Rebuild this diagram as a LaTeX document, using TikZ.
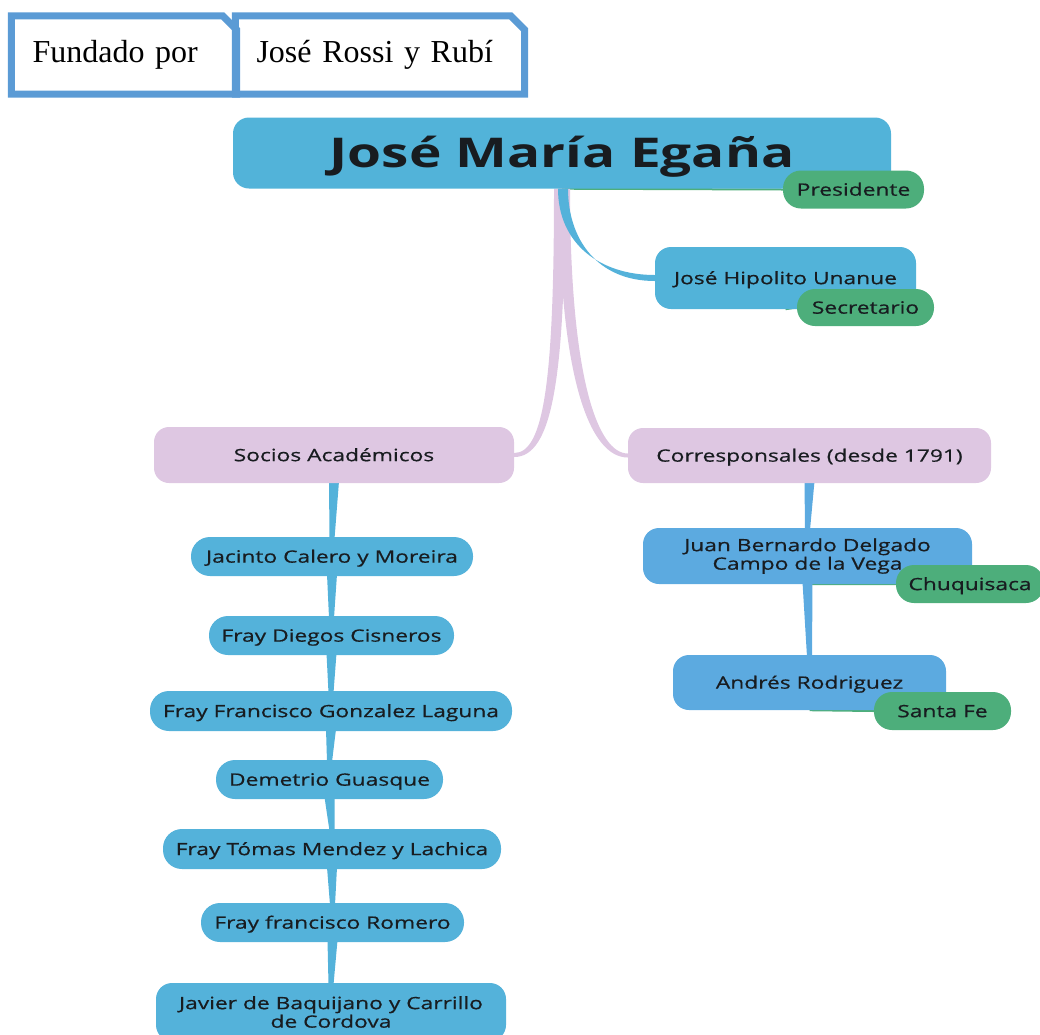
\documentclass[tikz,border=0pt]{standalone}
\usepackage{fontspec}
\setmainfont{Open Sans}[FakeStretch=1.34]
\newfontfamily\mapfont{Open Sans}[FakeStretch=1.34, FakeBold=0.6]
\newfontfamily\timesfont{Liberation Serif}
\usetikzlibrary{calc}
\pgfdeclarelayer{background}
\pgfsetlayers{background,main}

\definecolor{topicblue}{RGB}{82,179,217}
\definecolor{leafblue}{RGB}{84,178,218}
\definecolor{subblue}{RGB}{92,170,224}
\definecolor{lilac}{RGB}{222,199,226}
\definecolor{taggreen}{RGB}{77,174,123}
\definecolor{frameblue}{RGB}{91,155,213}
\definecolor{inkdark}{RGB}{24,28,32}

\begin{document}
\begin{tikzpicture}[x=1pt, y=-1pt, every node/.style={text=inkdark, inner sep=0pt},
	flat/.style={text height=12.3pt, text depth=0pt},
	topic/.style={fill=topicblue, rounded corners=16pt, minimum width=658pt, minimum height=71pt, text height=29pt, text depth=0pt, font=\fontsize{41}{48}\selectfont\bfseries},
	branch/.style={flat, fill=lilac, rounded corners=15pt, minimum height=56pt, font=\mapfont\fontsize{17}{20}\selectfont},
	leaf/.style={flat, fill=leafblue, rounded corners=19pt, minimum height=39pt, font=\mapfont\fontsize{17}{20}\selectfont},
	leafwide/.style={fill=leafblue, rounded corners=16pt, minimum height=58pt, align=center, font=\mapfont\fontsize{17}{18.5}\selectfont},
	member/.style={fill=subblue, rounded corners=16pt, minimum height=56pt, font=\mapfont\fontsize{17}{18.5}\selectfont, align=center},
	tag/.style={flat, fill=taggreen, rounded corners=18pt, minimum height=38pt, font=\mapfont\fontsize{17}{20}\selectfont},
	fbox/.style={minimum height=78pt, inner xsep=21pt, align=left, text=black, font=\timesfont\fontsize{32}{36}\selectfont},
	frame/.style={draw=frameblue, line width=7pt},
	purplelink/.style={fill=lilac},
	bluelink/.style={fill=leafblue},
	taglink/.style={draw=taggreen, line width=2pt}]
	\useasboundingbox (0,0) rectangle (1040,1034);

	% founder boxes
	\node[fbox, text width=183pt] (f1) at (124,55) {Fundado por};
	\node[fbox, text width=247pt] (f2) at (380,55) {José Rossi y Rubí};
	\draw[frame] (f2.south west) -- (f2.north west) -- ([xshift=-14pt]f2.north east) -- ([yshift=-14pt]f2.north east) -- (f2.south east) -- cycle;
	\draw[frame] (f1.south west) -- (f1.north west) -- ([xshift=-14pt]f1.north east) -- ([yshift=-14pt]f1.north east) -- (f1.south east) -- cycle;

	% mind map
	\node[topic] (egana) at (562,153) {José María Egaña};
	\node[tag, minimum width=141pt] (pres) at (853.5,189.5) {Presidente};
	\node[leaf, fill=topicblue, rounded corners=16pt, minimum width=261pt, minimum height=62pt] (unanue) at (785.5,278) {José Hipolito Unanue};
	\node[tag, minimum width=137pt, minimum height=37pt] (secr) at (865.5,307.5) {Secretario};

	\node[branch, minimum width=360pt] (socios) at (334,455) {Socios Académicos};
	\node[branch, minimum width=363pt, minimum height=55pt] (corresp) at (809.5,455.5) {Corresponsales (desde 1791)};

	\node[leaf, minimum width=282pt] (calero) at (332,556.5) {Jacinto Calero y Moreira};
	\node[leaf, minimum width=245pt] (cisneros) at (331.5,635.5) {Fray Diegos Cisneros};
	\node[leaf, minimum width=362pt, minimum height=40pt] (laguna) at (331,711) {Fray Francisco Gonzalez Laguna};
	\node[leaf, minimum width=227pt] (guasque) at (329.5,779.5) {Demetrio Guasque};
	\node[leaf, minimum width=338pt, minimum height=40pt] (lachica) at (332,849) {Fray Tómas Mendez y Lachica};
	\node[leaf, minimum width=263pt] (romero) at (332.5,922.5) {Fray francisco Romero};
	\node[leafwide, minimum width=350pt] (baquijano) at (331,1012) {Javier de Baquijano y Carrillo\\de Cordova};

	\node[member, minimum width=329pt] (delgado) at (807.5,556) {Juan Bernardo Delgado\\Campo de la Vega};
	\node[tag, minimum width=148pt] (chuqui) at (970,584) {Chuquisaca};
	\node[member, flat, minimum width=273pt, minimum height=55pt] (rodriguez) at (809.5,682.5) {Andrés Rodriguez};
	\node[tag, minimum width=137pt] (santafe) at (942.5,711) {Santa Fe};

	\begin{pgfonlayer}{background}
		\draw[taglink] (egana.south) -- (pres.west);
		\draw[taglink] (unanue.south) -- (secr.west);
		\draw[taglink] (delgado.south) -- (chuqui.west);
		\draw[taglink] (rodriguez.south) -- (santafe.west);
		% curved branches
		\fill[purplelink] ($(egana.south)+(-8,0)$) .. controls ($(egana.south)+(-8,190)$) and ($(socios.east)+(30,-2)$) .. ($(socios.east)+(0,-2)$)
			-- ($(socios.east)+(0,2)$) .. controls ($(socios.east)+(38,2)$) and ($(egana.south)+(3,190)$) .. ($(egana.south)+(3,0)$) -- cycle;
		\fill[purplelink] ($(egana.south)+(8,0)$) .. controls ($(egana.south)+(8,190)$) and ($(corresp.west)+(-30,-2)$) .. ($(corresp.west)+(0,-2)$)
			-- ($(corresp.west)+(0,2)$) .. controls ($(corresp.west)+(-38,2)$) and ($(egana.south)+(-3,190)$) .. ($(egana.south)+(-3,0)$) -- cycle;
		\fill[bluelink] ($(egana.south)+(-4,0)$) .. controls ($(egana.south)+(-4,55)$) and ($(unanue.west)+(-55,-3)$) .. ($(unanue.west)+(0,-3)$)
			-- ($(unanue.west)+(0,3)$) .. controls ($(unanue.west)+(-58,3)$) and ($(egana.south)+(6,50)$) .. ($(egana.south)+(6,0)$) -- cycle;
		% straight tapered links
		\foreach \a/\b in {socios/calero, calero/cisneros, cisneros/laguna, laguna/guasque, guasque/lachica, lachica/romero, romero/baquijano}
			\fill[bluelink] ($(\a.south)+(-5,-2)$) -- ($(\a.south)+(5,-2)$) -- ($(\b.north)+(2.5,2)$) -- ($(\b.north)+(-2.5,2)$) -- cycle;
		\foreach \a/\b in {corresp/delgado, delgado/rodriguez}
			\fill[fill=subblue] ($(\a.south)+(-5,-2)$) -- ($(\a.south)+(5,-2)$) -- ($(\b.north)+(2.5,2)$) -- ($(\b.north)+(-2.5,2)$) -- cycle;
	\end{pgfonlayer}
\end{tikzpicture}
\end{document}
